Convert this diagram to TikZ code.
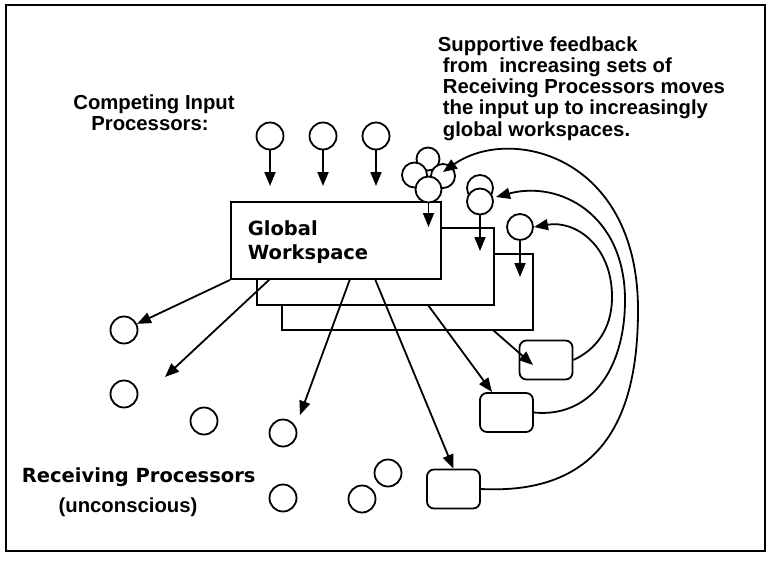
\documentclass[tikz,border=0pt]{standalone}
\usepackage{fontspec}
\newfontfamily\helv{Liberation Sans}
\newfontfamily\chic{DejaVu Sans}
\usetikzlibrary{arrows.meta,calc}
\begin{document}
\begin{tikzpicture}[x=1pt,y=-1pt,line width=1.8pt,
  proc/.style={circle,draw,fill=white,minimum size=27pt,inner sep=0pt},
  kproc/.style={circle,draw,fill=white,minimum size=25pt,inner sep=0pt},
  rbox/.style={draw,fill=white,rounded corners=7pt,minimum width=53pt,minimum height=39pt,inner sep=0pt},
  wsbox/.style={draw,fill=white,inner sep=0pt},
  arr/.style={-{Triangle[length=14pt,width=11pt]}},
  txt/.style={inner sep=0pt,anchor=base west},
  helvtxt/.style={font=\helv\bfseries\fontsize{20.3}{21}\selectfont},
  chictxt/.style={font=\chic\bfseries\fontsize{19.5}{21}\selectfont}]
\useasboundingbox (0,0) rectangle (768,560);
\node[draw,inner sep=0pt,minimum width=759pt,minimum height=546pt] (frame) at (385.5,278) {};

% texts
\node[txt,helvtxt] (s1) at (437,51) {Supportive feedback};
\node[txt,helvtxt] (s2) at (442,72) {from\ \ increasing sets of};
\node[txt,helvtxt] (s3) at (442,93) {Receiving Processors moves};
\node[txt,helvtxt] (s4) at (442,114) {the input up to increasingly};
\node[txt,helvtxt] (s5) at (442,136) {global workspaces.};
\node[inner sep=0pt,anchor=base,helvtxt] (c1) at (154,109) {Competing Input};
\node[inner sep=0pt,anchor=base,helvtxt] (c2) at (150,130) {Processors:};
\node[txt,chictxt] (rp) at (21,482) {Receiving Processors};
\node[inner sep=0pt,anchor=base,helvtxt] (un) at (128,512) {(unconscious)};

% workspaces
\node[wsbox,minimum width=251pt,minimum height=76pt] (w3) at (407.5,292) {};
\node[wsbox,minimum width=237pt,minimum height=77pt] (w2) at (375.5,266.5) {};
\node[wsbox,minimum width=210pt,minimum height=77pt] (gw) at (336,240.5) {};
\node[txt,chictxt] (g1) at (247,235) {Global};
\node[txt,chictxt] (g2) at (247,259) {Workspace};

% input processors
\node[proc] (i1) at (270,136) {};
\node[proc] (i2) at (323,136) {};
\node[proc] (i3) at (376,136) {};
\coordinate (ti1) at (270,186);
\coordinate (ti2) at (323,186);
\coordinate (ti3) at (376,186);
\draw[arr] (i1.south) -- (ti1);
\draw[arr] (i2.south) -- (ti2);
\draw[arr] (i3.south) -- (ti3);

% clusters
\node[kproc,minimum size=23pt] (k1a) at (428,159) {};
\node[kproc,minimum size=24pt] (k1b) at (443,176) {};
\node[kproc] (k1c) at (414.5,175) {};
\node[kproc,minimum size=26pt] (k1d) at (428.5,189.5) {};
\node[kproc,minimum size=26pt] (k2a) at (480,188) {};
\node[kproc,minimum size=26pt] (k2b) at (480,201.5) {};
\node[proc,minimum size=26pt] (k3) at (520,227) {};
\coordinate (tk1) at (428.5,227);
\coordinate (tk2) at (480,251);
\coordinate (tk3) at (520,277);
\draw[arr] (k1d.south) -- (tk1);
\draw[arr] (k2b.south) -- (tk2);
\draw[arr] (k3.south) -- (tk3);

% receiving processors
\node[proc] (r1) at (124,330) {};
\node[proc] (r2) at (124,394) {};
\node[proc] (r3) at (204,421) {};
\node[proc] (r4) at (283,433) {};
\node[proc] (r5) at (283,498) {};
\node[proc] (r6) at (362,499) {};
\node[proc] (r7) at (388,473) {};
\node[rbox] (b1) at (546,360) {};
\node[rbox] (b2) at (506.5,412.5) {};
\node[rbox] (b3) at (453.5,489) {};

% broadcast arrows
\coordinate (o2) at (270,279);
\coordinate (o3) at (350,279);
\coordinate (o4) at (375,279);
\coordinate (o5) at (428,305);
\coordinate (o6) at (493,330);
\coordinate (e2) at (165,377);
\coordinate (e3) at (300,415);
\coordinate (e5) at (492,392);
\coordinate (e6) at (533,365);
\draw[arr] (gw.south west) -- (r1);
\draw[arr] (o2) -- (e2);
\draw[arr] (o3) -- (e3);
\draw[arr] (o4) -- (b3.north);
\draw[arr] (o5) -- (e5);
\draw[arr] (o6) -- (e6);

% feedback arcs
\coordinate (m1) at (612,297);
\coordinate (m2) at (625,300);
\coordinate (m3) at (638,310);
\coordinate (f1) at (534,227);
\coordinate (f2) at (496,197);
\coordinate (f3) at (443,172);
\draw[arr] (b1.east) .. controls (595,350) and (612,330) .. (m1)
  .. controls (612,245) and (575,220) .. (f1);
\draw[arr] (b2.east) .. controls (590,418) and (625,370) .. (m2)
  .. controls (625,215) and (560,180) .. (f2);
\draw[arr] (b3.east) .. controls (600,495) and (638,420) .. (m3)
  .. controls (638,155) and (510,125) .. (f3);
\end{tikzpicture}
\end{document}
